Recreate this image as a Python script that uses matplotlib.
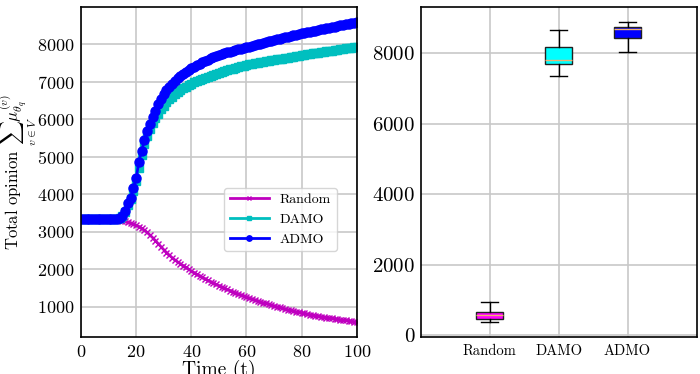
import matplotlib
matplotlib.use('Agg')
import matplotlib.pyplot as plt
import numpy as np

plt.rcParams['font.family'] = ['cmr10', 'DejaVu Serif']
plt.rcParams['mathtext.fontset'] = 'cm'
plt.rcParams['axes.formatter.use_mathtext'] = True

# time steps
t = list(range(0, 101))

# total opinion over time
random_vals = [3330, 3330, 3330, 3330, 3330, 3330, 3330, 3330, 3330, 3330,
               3330, 3330, 3328, 3325, 3315, 3295, 3275, 3250, 3225, 3200,
               3170, 3135, 3090, 3040, 2980, 2910, 2840, 2760, 2680, 2600,
               2520, 2445, 2375, 2310, 2250, 2195, 2145, 2095, 2050, 2000,
               1950, 1905, 1860, 1820, 1780, 1740, 1700, 1665, 1630, 1595,
               1560, 1525, 1490, 1460, 1430, 1400, 1370, 1340, 1310, 1285,
               1255, 1230, 1205, 1180, 1155, 1130, 1105, 1085, 1060, 1040,
               1020, 1000, 980, 960, 940, 920, 900, 885, 865, 850,
               835, 820, 805, 790, 775, 760, 748, 735, 722, 710,
               698, 686, 675, 664, 653, 642, 632, 622, 612, 602,
               592]
damo_vals = [3330, 3330, 3330, 3330, 3330, 3330, 3330, 3330, 3330, 3330,
             3330, 3330, 3332, 3335, 3355, 3410, 3520, 3700, 3860, 4080,
             4340, 4700, 5050, 5330, 5560, 5750, 5900, 6030, 6150, 6260,
             6360, 6450, 6530, 6600, 6660, 6720, 6770, 6820, 6865, 6905,
             6945, 6980, 7015, 7045, 7075, 7105, 7135, 7165, 7190, 7215,
             7240, 7262, 7284, 7305, 7326, 7347, 7368, 7389, 7410, 7430,
             7450, 7463, 7476, 7489, 7502, 7515, 7528, 7541, 7554, 7567,
             7580, 7593, 7606, 7619, 7632, 7645, 7658, 7671, 7684, 7697,
             7710, 7721, 7732, 7743, 7754, 7765, 7776, 7787, 7798, 7809,
             7820, 7831, 7842, 7853, 7864, 7875, 7886, 7897, 7908, 7919,
             7930]
admo_vals = [3330, 3330, 3330, 3330, 3330, 3330, 3330, 3330, 3330, 3330,
             3330, 3330, 3332, 3338, 3362, 3425, 3560, 3770, 3910, 4170,
             4420, 4870, 5160, 5440, 5680, 5880, 6060, 6220, 6400, 6550,
             6670, 6770, 6860, 6950, 7020, 7090, 7150, 7210, 7260, 7310,
             7360, 7400, 7440, 7480, 7520, 7560, 7590, 7625, 7655, 7685,
             7710, 7735, 7760, 7785, 7805, 7825, 7845, 7865, 7885, 7900,
             7915, 7935, 7955, 7975, 7995, 8015, 8035, 8055, 8075, 8095,
             8115, 8135, 8150, 8170, 8185, 8205, 8220, 8240, 8255, 8275,
             8290, 8305, 8320, 8335, 8350, 8365, 8380, 8395, 8410, 8425,
             8440, 8455, 8470, 8485, 8500, 8515, 8530, 8545, 8560, 8575,
             8590]

# final opinion spread per method (box plot)
methods = ['Random', 'DAMO', 'ADMO']
box_colors = ['magenta', 'cyan', 'blue']
whislo = [370, 7350, 8030]
q1 = [450, 7690, 8430]
med = [555, 7810, 8700]
q3 = [665, 8180, 8750]
whishi = [930, 8660, 8890]

fig = plt.figure(figsize=(7, 3.74), dpi=100)
ax1 = fig.add_axes([0.1157, 0.099, 0.394, 0.882])
ax2 = fig.add_axes([0.601, 0.099, 0.394, 0.882])

ax1.plot(t, random_vals, color='m', marker='x', markersize=4.5, lw=2, label='Random')
ax1.plot(t, damo_vals, color='c', marker='s', markersize=6, lw=2, label='DAMO')
ax1.plot(t, admo_vals, color='b', marker='o', markersize=6.5, lw=2, label='ADMO')
ax1.set_xlim(0, 100)
ax1.set_xticks([0, 20, 40, 60, 80, 100])
ax1.set_yticks([1000, 2000, 3000, 4000, 5000, 6000, 7000, 8000])
ax1.grid(True, color='#c8c8c8', lw=1.2)
ax1.set_axisbelow(True)
ax1.tick_params(labelsize=13, length=0, pad=5)
ax1.set_xlabel('Time (t)', fontsize=14, labelpad=0)
ax1.set_ylabel(r'Total opinion $\sum_{v\in V}\mu_{\theta_q}^{(v)}$', fontsize=12)
ax1.yaxis.set_label_coords(-0.152, 0.5)
ax1.legend(loc='lower left', bbox_to_anchor=(0.52, 0.26), borderaxespad=0, fontsize=10,
           handlelength=2.8, framealpha=0.8, markerscale=0.6)

stats = []
for i in range(len(methods)):
    stats.append({'label': methods[i], 'whislo': whislo[i], 'q1': q1[i], 'med': med[i],
                  'q3': q3[i], 'whishi': whishi[i], 'fliers': []})
bp = ax2.bxp(stats, positions=[1, 2, 3], widths=0.4, capwidths=0.25, patch_artist=True,
             medianprops=dict(color='#f0b070', lw=1), showfliers=False)
for patch, c in zip(bp['boxes'], box_colors):
    patch.set_facecolor(c)
    patch.set_edgecolor('#202020')
ax2.set_xlim(0, 4)
ax2.set_yticks([0, 2000, 4000, 6000, 8000])
ax2.grid(True, color='#c8c8c8', lw=1.2)
ax2.set_axisbelow(True)
ax2.tick_params(length=0)
ax2.tick_params(axis='y', labelsize=15, pad=4)
ax2.tick_params(axis='x', labelsize=10.5, pad=5)

for ax in (ax1, ax2):
    for s in ax.spines.values():
        s.set_linewidth(1.2)

fig.savefig('out.png', dpi=100)
